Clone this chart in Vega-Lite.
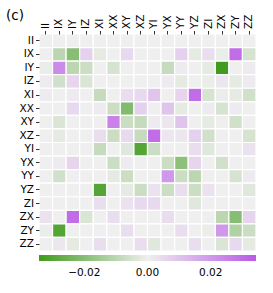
{
"$schema": "https://vega.github.io/schema/vega-lite/v6.json",
"width": 217, "height": 217,
"autosize": {"type": "none"},
"padding": {"left": 39, "top": 34, "right": 17, "bottom": 42},
"background": "white",
"config": {"view": {"stroke": null}, "font": "DejaVu Sans"},
"title": {"text": "(c)", "anchor": "start", "frame": "group", "dx": -33, "dy": 12, "fontSize": 13.5, "fontWeight": "normal", "font": "DejaVu Sans", "color": "black"},
"data": {"values": [
{"r":"II","c":"II","v":0},{"r":"II","c":"IX","v":0},{"r":"II","c":"IY","v":0},{"r":"II","c":"IZ","v":0},{"r":"II","c":"XI","v":0},{"r":"II","c":"XX","v":0},{"r":"II","c":"XY","v":0},{"r":"II","c":"XZ","v":0},{"r":"II","c":"YI","v":0},{"r":"II","c":"YX","v":0},{"r":"II","c":"YY","v":0},{"r":"II","c":"YZ","v":0},{"r":"II","c":"ZI","v":0},{"r":"II","c":"ZX","v":0},{"r":"II","c":"ZY","v":0},{"r":"II","c":"ZZ","v":0},
{"r":"IX","c":"II","v":0},{"r":"IX","c":"IX","v":-0.010},{"r":"IX","c":"IY","v":-0.020},{"r":"IX","c":"IZ","v":0.007},{"r":"IX","c":"XI","v":-0.002},{"r":"IX","c":"XX","v":0},{"r":"IX","c":"XY","v":0.005},{"r":"IX","c":"XZ","v":0},{"r":"IX","c":"YI","v":0},{"r":"IX","c":"YX","v":0},{"r":"IX","c":"YY","v":0.007},{"r":"IX","c":"YZ","v":-0.002},{"r":"IX","c":"ZI","v":0.004},{"r":"IX","c":"ZX","v":-0.001},{"r":"IX","c":"ZY","v":0.030},{"r":"IX","c":"ZZ","v":-0.005},
{"r":"IY","c":"II","v":-0.001},{"r":"IY","c":"IX","v":0.023},{"r":"IY","c":"IY","v":-0.010},{"r":"IY","c":"IZ","v":-0.007},{"r":"IY","c":"XI","v":0},{"r":"IY","c":"XX","v":-0.005},{"r":"IY","c":"XY","v":0},{"r":"IY","c":"XZ","v":0},{"r":"IY","c":"YI","v":0},{"r":"IY","c":"YX","v":-0.008},{"r":"IY","c":"YY","v":0.001},{"r":"IY","c":"YZ","v":0},{"r":"IY","c":"ZI","v":-0.002},{"r":"IY","c":"ZX","v":-0.034},{"r":"IY","c":"ZY","v":0},{"r":"IY","c":"ZZ","v":0.001},
{"r":"IZ","c":"II","v":0.001},{"r":"IZ","c":"IX","v":-0.006},{"r":"IZ","c":"IY","v":0.006},{"r":"IZ","c":"IZ","v":-0.004},{"r":"IZ","c":"XI","v":0},{"r":"IZ","c":"XX","v":0},{"r":"IZ","c":"XY","v":0},{"r":"IZ","c":"XZ","v":0},{"r":"IZ","c":"YI","v":0},{"r":"IZ","c":"YX","v":0.001},{"r":"IZ","c":"YY","v":-0.002},{"r":"IZ","c":"YZ","v":0},{"r":"IZ","c":"ZI","v":-0.001},{"r":"IZ","c":"ZX","v":0.002},{"r":"IZ","c":"ZY","v":-0.002},{"r":"IZ","c":"ZZ","v":0.001},
{"r":"XI","c":"II","v":0.001},{"r":"XI","c":"IX","v":0},{"r":"XI","c":"IY","v":0.001},{"r":"XI","c":"IZ","v":0},{"r":"XI","c":"XI","v":-0.008},{"r":"XI","c":"XX","v":0},{"r":"XI","c":"XY","v":0.004},{"r":"XI","c":"XZ","v":0.005},{"r":"XI","c":"YI","v":0.010},{"r":"XI","c":"YX","v":0},{"r":"XI","c":"YY","v":0.006},{"r":"XI","c":"YZ","v":0.030},{"r":"XI","c":"ZI","v":-0.005},{"r":"XI","c":"ZX","v":-0.001},{"r":"XI","c":"ZY","v":-0.002},{"r":"XI","c":"ZZ","v":-0.006},
{"r":"XX","c":"II","v":0},{"r":"XX","c":"IX","v":0},{"r":"XX","c":"IY","v":0.005},{"r":"XX","c":"IZ","v":0},{"r":"XX","c":"XI","v":0.001},{"r":"XX","c":"XX","v":-0.007},{"r":"XX","c":"XY","v":-0.021},{"r":"XX","c":"XZ","v":0.007},{"r":"XX","c":"YI","v":0},{"r":"XX","c":"YX","v":0.010},{"r":"XX","c":"YY","v":-0.002},{"r":"XX","c":"YZ","v":0},{"r":"XX","c":"ZI","v":0.001},{"r":"XX","c":"ZX","v":-0.005},{"r":"XX","c":"ZY","v":0.001},{"r":"XX","c":"ZZ","v":0},
{"r":"XY","c":"II","v":0},{"r":"XY","c":"IX","v":-0.004},{"r":"XY","c":"IY","v":0},{"r":"XY","c":"IZ","v":0},{"r":"XY","c":"XI","v":0},{"r":"XY","c":"XX","v":0.025},{"r":"XY","c":"XY","v":-0.007},{"r":"XY","c":"XZ","v":-0.008},{"r":"XY","c":"YI","v":0.001},{"r":"XY","c":"YX","v":0.002},{"r":"XY","c":"YY","v":0.010},{"r":"XY","c":"YZ","v":0},{"r":"XY","c":"ZI","v":-0.002},{"r":"XY","c":"ZX","v":0},{"r":"XY","c":"ZY","v":-0.006},{"r":"XY","c":"ZZ","v":0},
{"r":"XZ","c":"II","v":0},{"r":"XZ","c":"IX","v":-0.002},{"r":"XZ","c":"IY","v":0},{"r":"XZ","c":"IZ","v":0},{"r":"XZ","c":"XI","v":0.004},{"r":"XZ","c":"XX","v":-0.007},{"r":"XZ","c":"XY","v":0.005},{"r":"XZ","c":"XZ","v":-0.008},{"r":"XZ","c":"YI","v":0.030},{"r":"XZ","c":"YX","v":0.002},{"r":"XZ","c":"YY","v":0.002},{"r":"XZ","c":"YZ","v":0.007},{"r":"XZ","c":"ZI","v":-0.006},{"r":"XZ","c":"ZX","v":0},{"r":"XZ","c":"ZY","v":0},{"r":"XZ","c":"ZZ","v":-0.005},
{"r":"YI","c":"II","v":0},{"r":"YI","c":"IX","v":0},{"r":"YI","c":"IY","v":0},{"r":"YI","c":"IZ","v":0},{"r":"YI","c":"XI","v":-0.008},{"r":"YI","c":"XX","v":0},{"r":"YI","c":"XY","v":-0.003},{"r":"YI","c":"XZ","v":-0.030},{"r":"YI","c":"YI","v":-0.007},{"r":"YI","c":"YX","v":0},{"r":"YI","c":"YY","v":0},{"r":"YI","c":"YZ","v":0.004},{"r":"YI","c":"ZI","v":-0.003},{"r":"YI","c":"ZX","v":0},{"r":"YI","c":"ZY","v":0},{"r":"YI","c":"ZZ","v":0.003},
{"r":"YX","c":"II","v":0},{"r":"YX","c":"IX","v":0.001},{"r":"YX","c":"IY","v":0.006},{"r":"YX","c":"IZ","v":0},{"r":"YX","c":"XI","v":0},{"r":"YX","c":"XX","v":-0.007},{"r":"YX","c":"XY","v":0.001},{"r":"YX","c":"XZ","v":0},{"r":"YX","c":"YI","v":0},{"r":"YX","c":"YX","v":-0.007},{"r":"YX","c":"YY","v":-0.019},{"r":"YX","c":"YZ","v":0.006},{"r":"YX","c":"ZI","v":0},{"r":"YX","c":"ZX","v":-0.006},{"r":"YX","c":"ZY","v":0},{"r":"YX","c":"ZZ","v":0},
{"r":"YY","c":"II","v":0},{"r":"YY","c":"IX","v":-0.006},{"r":"YY","c":"IY","v":0},{"r":"YY","c":"IZ","v":0},{"r":"YY","c":"XI","v":0},{"r":"YY","c":"XX","v":-0.002},{"r":"YY","c":"XY","v":-0.007},{"r":"YY","c":"XZ","v":0},{"r":"YY","c":"YI","v":0},{"r":"YY","c":"YX","v":0.020},{"r":"YY","c":"YY","v":-0.007},{"r":"YY","c":"YZ","v":-0.010},{"r":"YY","c":"ZI","v":0},{"r":"YY","c":"ZX","v":0},{"r":"YY","c":"ZY","v":-0.005},{"r":"YY","c":"ZZ","v":0.001},
{"r":"YZ","c":"II","v":0},{"r":"YZ","c":"IX","v":0},{"r":"YZ","c":"IY","v":0},{"r":"YZ","c":"IZ","v":0},{"r":"YZ","c":"XI","v":-0.030},{"r":"YZ","c":"XX","v":0},{"r":"YZ","c":"XY","v":-0.002},{"r":"YZ","c":"XZ","v":-0.007},{"r":"YZ","c":"YI","v":0.003},{"r":"YZ","c":"YX","v":-0.007},{"r":"YZ","c":"YY","v":0.004},{"r":"YZ","c":"YZ","v":-0.007},{"r":"YZ","c":"ZI","v":0.003},{"r":"YZ","c":"ZX","v":0},{"r":"YZ","c":"ZY","v":0},{"r":"YZ","c":"ZZ","v":-0.003},
{"r":"ZI","c":"II","v":0},{"r":"ZI","c":"IX","v":0},{"r":"ZI","c":"IY","v":0},{"r":"ZI","c":"IZ","v":0},{"r":"ZI","c":"XI","v":0.004},{"r":"ZI","c":"XX","v":0},{"r":"ZI","c":"XY","v":0.003},{"r":"ZI","c":"XZ","v":0.005},{"r":"ZI","c":"YI","v":0.005},{"r":"ZI","c":"YX","v":0},{"r":"ZI","c":"YY","v":0},{"r":"ZI","c":"YZ","v":-0.003},{"r":"ZI","c":"ZI","v":0},{"r":"ZI","c":"ZX","v":0},{"r":"ZI","c":"ZY","v":0},{"r":"ZI","c":"ZZ","v":0},
{"r":"ZX","c":"II","v":0.003},{"r":"ZX","c":"IX","v":0},{"r":"ZX","c":"IY","v":0.030},{"r":"ZX","c":"IZ","v":-0.004},{"r":"ZX","c":"XI","v":0},{"r":"ZX","c":"XX","v":0.004},{"r":"ZX","c":"XY","v":0},{"r":"ZX","c":"XZ","v":0},{"r":"ZX","c":"YI","v":0},{"r":"ZX","c":"YX","v":0.004},{"r":"ZX","c":"YY","v":0},{"r":"ZX","c":"YZ","v":0},{"r":"ZX","c":"ZI","v":0},{"r":"ZX","c":"ZX","v":-0.010},{"r":"ZX","c":"ZY","v":-0.020},{"r":"ZX","c":"ZZ","v":0.006},
{"r":"ZY","c":"II","v":-0.001},{"r":"ZY","c":"IX","v":-0.030},{"r":"ZY","c":"IY","v":0},{"r":"ZY","c":"IZ","v":0},{"r":"ZY","c":"XI","v":0},{"r":"ZY","c":"XX","v":0},{"r":"ZY","c":"XY","v":0.004},{"r":"ZY","c":"XZ","v":0},{"r":"ZY","c":"YI","v":0},{"r":"ZY","c":"YX","v":0},{"r":"ZY","c":"YY","v":0.004},{"r":"ZY","c":"YZ","v":0},{"r":"ZY","c":"ZI","v":-0.001},{"r":"ZY","c":"ZX","v":0.020},{"r":"ZY","c":"ZY","v":-0.012},{"r":"ZY","c":"ZZ","v":-0.007},
{"r":"ZZ","c":"II","v":0},{"r":"ZZ","c":"IX","v":0.002},{"r":"ZZ","c":"IY","v":-0.002},{"r":"ZZ","c":"IZ","v":0},{"r":"ZZ","c":"XI","v":0.004},{"r":"ZZ","c":"XX","v":0},{"r":"ZZ","c":"XY","v":0},{"r":"ZZ","c":"XZ","v":0.004},{"r":"ZZ","c":"YI","v":-0.003},{"r":"ZZ","c":"YX","v":0},{"r":"ZZ","c":"YY","v":0},{"r":"ZZ","c":"YZ","v":0.004},{"r":"ZZ","c":"ZI","v":0},{"r":"ZZ","c":"ZX","v":-0.004},{"r":"ZZ","c":"ZY","v":0.005},{"r":"ZZ","c":"ZZ","v":-0.002}
]},
"mark": {"type": "rect", "stroke": "white", "strokeWidth": 1.2},
"encoding": {
"x": {"field": "c", "type": "nominal", "sort": ["II","IX","IY","IZ","XI","XX","XY","XZ","YI","YX","YY","YZ","ZI","ZX","ZY","ZZ"], "title": null,
  "scale": {"paddingInner": 0, "paddingOuter": 0},
  "axis": {"orient": "top", "labelAngle": -90, "domain": false, "tickSize": 3.5, "tickColor": "black", "tickWidth": 0.8, "labelColor": "black", "labelFont": "DejaVu Sans", "labelFontSize": 10.5, "labelPadding": 2}},
"y": {"field": "r", "type": "nominal", "sort": ["II","IX","IY","IZ","XI","XX","XY","XZ","YI","YX","YY","YZ","ZI","ZX","ZY","ZZ"], "title": null,
  "scale": {"paddingInner": 0, "paddingOuter": 0},
  "axis": {"domain": false, "tickSize": 3.5, "tickColor": "black", "tickWidth": 0.8, "labelColor": "black", "labelFont": "DejaVu Sans", "labelFontSize": 10.5, "labelPadding": 2}},
"color": {"field": "v", "type": "quantitative",
  "scale": {"domain": [-0.0343, 0, 0.0343], "range": ["#3f9a1c", "#efefef", "#b95ae6"], "interpolate": "rgb"},
  "legend": {"orient": "bottom", "direction": "horizontal", "title": null, "gradientLength": 217, "gradientThickness": 6, "gradientStrokeWidth": 0, "values": [-0.02, 0, 0.02], "format": ".2f", "labelFont": "DejaVu Sans", "labelFontSize": 10.5, "labelColor": "black", "offset": 4, "labelOffset": 7}}
}
}
